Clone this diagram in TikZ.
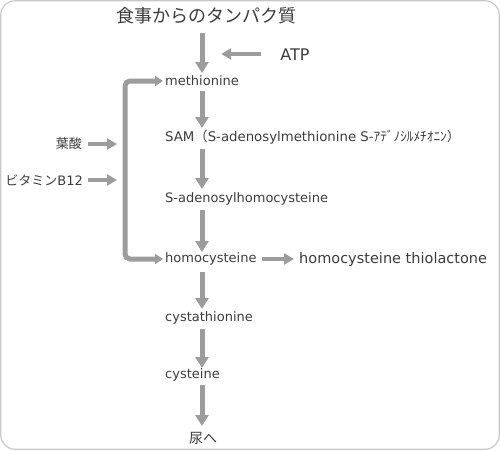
\documentclass[tikz,border=0pt]{standalone}
\usepackage{fontspec}
\setmainfont{DejaVu Sans}
\newfontfamily\jp{Noto Sans CJK JP}
\usetikzlibrary{arrows.meta,calc}
\definecolor{arrowgray}{HTML}{9C9C9C}
\definecolor{txtgray}{HTML}{3C3C3C}
\definecolor{framegray}{HTML}{C8C8C8}
\begin{document}
\begin{tikzpicture}[x=1pt,y=-1pt,
  lbl/.style={anchor=west,inner sep=0pt,text=txtgray,font=\fontsize{13}{13}\selectfont},
  biglbl/.style={inner sep=0pt,text=txtgray,font=\fontsize{14.5}{15}\selectfont},
  titlelbl/.style={inner sep=0pt,text=txtgray,font=\jp\fontsize{18}{18}\selectfont},
  arr/.style={draw=arrowgray,line width=5pt,-{Triangle[length=11pt,width=13pt]}},
  sarr/.style={draw=arrowgray,line width=4.5pt,-{Triangle[length=10pt,width=11pt]}},
  brk/.style={draw=arrowgray,line width=5pt,rounded corners=5pt,{Triangle[length=8pt,width=10pt]}-{Triangle[length=8pt,width=10pt]}}
]
\useasboundingbox (0,0) rectangle (500,450);
\draw[framegray,line width=1.2pt,rounded corners=14pt] (0.8,0.8) rectangle (499.2,449.2);

\node[titlelbl] (title) at (206,16) {食事からのタンパク質};
\node[biglbl,font=\fontsize{16}{16}\selectfont] (atp) at (295,55) {ATP};
\coordinate (ax) at (202,0);
\coordinate (bx) at (125,0);

\node[lbl] (meth) at (165,81) {methionine};
\node[lbl,font=\fontsize{13.3}{13.3}\selectfont] (sam) at (165,137) {SAM{\jp （}S-adenosylmethionine S-{\jp ｱﾃﾞﾉｼﾙﾒﾁｵﾆﾝ）}};
\node[lbl] (sah) at (165,199) {S-adenosylhomocysteine};
\node[lbl] (hcy) at (165,259) {homocysteine};
\node[biglbl,anchor=west] (htl) at (299,259) {homocysteine thiolactone};
\node[lbl] (cth) at (165,318) {cystathionine};
\node[lbl] (cys) at (165,375) {cysteine};
\node[lbl,anchor=center,font=\jp\fontsize{14}{14}\selectfont] (urine) at (203,438) {尿へ};
\node[lbl,anchor=east,font=\jp\fontsize{13}{13}\selectfont] (folate) at (82,144) {葉酸};
\node[lbl,anchor=east] (b12) at (83,180) {{\jp ビタミン}B12};

% main vertical chain
\draw[arr] ($(title.center -| ax)+(0,17)$) -- ($(meth.west -| ax)+(0,-8)$);
\draw[arr] ($(meth.west -| ax)+(0,10)$) -- ($(sam.west -| ax)+(0,-9)$);
\draw[arr] ($(sam.west -| ax)+(0,12)$) -- ($(sah.west -| ax)+(0,-10)$);
\draw[arr] ($(sah.west -| ax)+(0,11)$) -- ($(hcy.west -| ax)+(0,-7)$);
\draw[arr] ($(hcy.west -| ax)+(0,13)$) -- ($(cth.west -| ax)+(0,-9)$);
\draw[arr] ($(cth.west -| ax)+(0,11)$) -- ($(cys.west -| ax)+(0,-7)$);
\draw[arr] ($(cys.west -| ax)+(0,10)$) -- ($(urine.center -| ax)+(0,-12)$);

% ATP
\draw[sarr] ($(atp.west)+(-19,-1)$) -- ($(atp.west)+(-59,-1)$);
% thiolactone
\draw[sarr] ($(hcy.east)+(5,0)$) -- ($(htl.west)+(-5,0)$);

% bracket
\coordinate (bmid) at ($(meth.west -| bx)!0.5!(hcy.west -| bx)$);
\draw[brk] ($(meth.west)+(-2,0)$) -| (bmid) |- ($(hcy.west)+(-2,0)$);

% folate / B12
\draw[sarr] ($(folate.east)+(6,0)$) -- ($(folate.east -| bx)+(-8,0)$);
\draw[sarr] ($(b12.east)+(5,0)$) -- ($(b12.east -| bx)+(-8,0)$);
\end{tikzpicture}
\end{document}
